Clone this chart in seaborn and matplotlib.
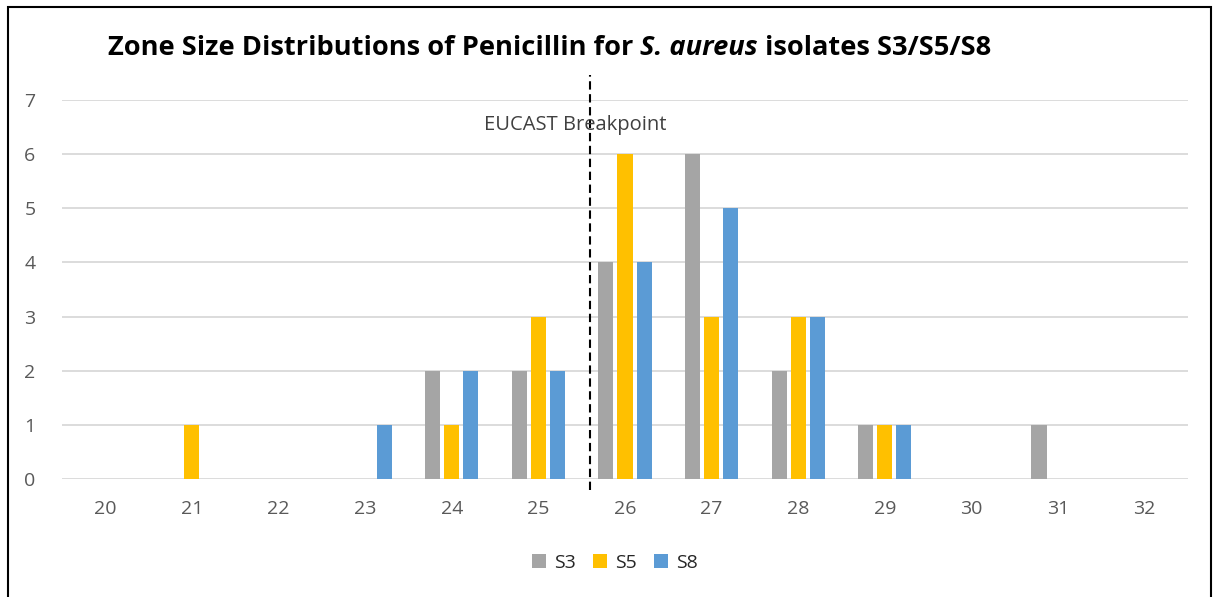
import matplotlib
matplotlib.use("Agg")
import matplotlib.pyplot as plt
import seaborn as sns
import pandas as pd
from matplotlib.patches import Rectangle

# ---- data ----
zone_sizes = [20, 21, 22, 23, 24, 25, 26, 27, 28, 29, 30, 31, 32]
s3_counts = [0, 0, 0, 0, 2, 2, 4, 6, 2, 1, 0, 1, 0]
s5_counts = [0, 1, 0, 0, 1, 3, 6, 3, 3, 1, 0, 0, 0]
s8_counts = [0, 0, 0, 1, 2, 2, 4, 5, 3, 1, 0, 0, 0]
series_names = ["S3", "S5", "S8"]
series_colors = ["#A5A5A5", "#FFC000", "#5B9BD5"]
breakpoint_zone = 25.6
breakpoint_label = "EUCAST Breakpoint"
y_ticks = [0, 1, 2, 3, 4, 5, 6, 7]
title_parts = ["Zone Size Distributions of Penicillin for", "S. aureus", "isolates S3/S5/S8"]

rows = []
for name, vals in zip(series_names, [s3_counts, s5_counts, s8_counts]):
    for z, v in zip(zone_sizes, vals):
        rows.append({"zone": str(z), "series": name, "count": v})
df = pd.DataFrame(rows)

sns.set_style("white")
plt.rcParams["font.family"] = ["Open Sans", "DejaVu Sans"]

W, H = 1214, 597
fig = plt.figure(figsize=(W / 100, H / 100), dpi=100)
ax = fig.add_axes([62 / W, 1 - 479 / H, (1188 - 62) / W, (479 - 100) / H])

sns.barplot(data=df, x="zone", y="count", hue="series",
            order=[str(z) for z in zone_sizes], hue_order=series_names,
            palette=series_colors, saturation=1, errorbar=None,
            width=0.66, gap=0.21, linewidth=0, edgecolor="none",
            ax=ax, zorder=3)

ax.set_xlim(-0.5, len(zone_sizes) - 0.5)
ax.set_ylim(0, 7)
ax.set_yticks(y_ticks)
ax.grid(axis="y", color="#D9D9D9", lw=1.3, zorder=0)
ax.set_axisbelow(True)
for s in ax.spines.values():
    s.set_visible(False)
ax.set_xlabel("")
ax.set_ylabel("")
ax.tick_params(axis="both", length=0, labelsize=14, labelcolor="#595959")
ax.tick_params(axis="y", pad=19)
ax.tick_params(axis="x", pad=15)

# breakpoint line
bx = breakpoint_zone - zone_sizes[0]
ax.plot([bx, bx], [-0.2, 7.46], color="black", lw=1.5,
        linestyle=(0, (4, 2.2)), clip_on=False, zorder=5)
ax.text(bx - 0.175, 6.54, breakpoint_label, ha="center", va="center",
        fontsize=14.5, color="#404040", zorder=6)

# legend
leg = ax.legend(loc="center", bbox_to_anchor=(615 / W, 1 - 563 / H),
                bbox_transform=fig.transFigure, ncol=3, frameon=False,
                fontsize=14, handlelength=0.72, handleheight=0.72,
                handletextpad=0.4, columnspacing=0.9)
for t in leg.get_texts():
    t.set_color("#262626")

# title (three pieces, middle italic)
renderer = fig.canvas.get_renderer()
tsize = 19.6
x_px = 108
y_fig = 1 - 48 / H
styles = ["normal", "italic", "normal"]
space_t = fig.text(0, 0, "a a", fontsize=tsize, fontweight="bold")
aa_t = fig.text(0, 0, "aa", fontsize=tsize, fontweight="bold")
space_w = space_t.get_window_extent(renderer).width - aa_t.get_window_extent(renderer).width
space_t.remove()
aa_t.remove()
for part, st in zip(title_parts, styles):
    t = fig.text(x_px / W, y_fig, part, ha="left", va="center", fontsize=tsize,
                 fontweight="bold", fontstyle=st, color="black")
    x_px += t.get_window_extent(renderer).width + space_w

# border
fig.add_artist(Rectangle((8 / W, -0.05), (1211 - 8) / W, 1.05 - 7 / H,
                         transform=fig.transFigure, fill=False,
                         ec="black", lw=1.5))

fig.savefig("out.png", dpi=100)
